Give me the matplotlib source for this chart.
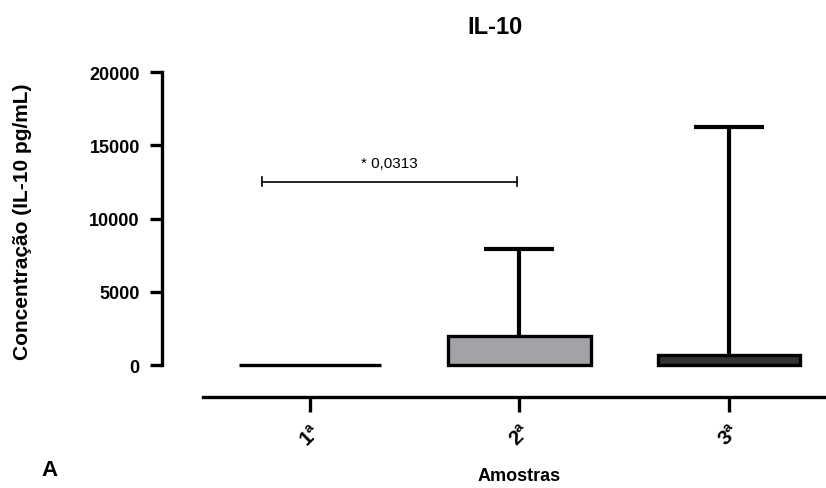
import matplotlib
matplotlib.use("Agg")
import matplotlib.pyplot as plt
import numpy as np

# dados (média e desvio, só a parte de cima)
amostras = ["1ª", "2ª", "3ª"]
medias = [0, 2000, 700]
erro_sup = [0, 5900, 15550]
cores = ["white", "#a3a2a7", "#333333"]
yticks = [0, 5000, 10000, 15000, 20000]
p_texto = "* 0,0313"
p_altura = 12500

plt.rcParams['font.family'] = ['Liberation Sans', 'DejaVu Sans']

fig = plt.figure(figsize=(8.26, 4.89), dpi=100)
ax = fig.add_axes([162/826, 1 - 398/489, 664/826, 325/489])

x = np.arange(len(amostras))
ax.bar(x, medias, width=0.68, color=cores, edgecolor="black", linewidth=2.4,
       clip_on=False, zorder=3)
# barras de erro (só para cima)
for xi, m, e in zip(x, medias, erro_sup):
    if e > 0:
        _, caps, _ = ax.errorbar(xi, m, yerr=[[0], [e]], fmt="none", ecolor="black",
                                 elinewidth=3, capsize=25, capthick=3, zorder=2)
        for c in caps:
            if c.get_ydata()[0] == m:
                c.set_visible(False)

# linha de significância
ax.plot([-0.23, 0.99], [p_altura, p_altura], color="black", lw=1.2)
ax.plot([-0.23, -0.23], [p_altura - 300, p_altura + 300], color="black", lw=1.2)
ax.plot([0.99, 0.99], [p_altura - 300, p_altura + 300], color="black", lw=1.2)
ax.text(0.38, p_altura + 800, p_texto, ha="center", va="bottom", fontsize=11)

ax.set_xlim(-0.706, 2.463)
ax.set_ylim(-2184, 20000)
for s in ["top", "right"]:
    ax.spines[s].set_visible(False)
ax.spines["left"].set_bounds(0, 20000)
ax.spines["bottom"].set_bounds(-0.51, 2.463)
ax.spines["left"].set_linewidth(2.4)
ax.spines["bottom"].set_linewidth(2.4)

ax.set_yticks(yticks)
ax.set_yticklabels([str(v) for v in yticks], fontsize=13, fontweight="bold")
ax.set_xticks(x)
ax.set_xticklabels(amostras, fontsize=15, fontweight="bold", rotation=45,
                   ha="right", va="top", rotation_mode="anchor")
ax.tick_params(axis="y", length=9, width=2.4, pad=7)
ax.tick_params(axis="x", length=11, width=2.4, pad=6)

fig.text(495/826, 1 - 27/489, "IL-10", ha="center", va="center",
         fontsize=17, fontweight="bold")
fig.text(23/826, 1 - 222/489, "Concentração (IL-10 pg/mL)", rotation=90,
         ha="center", va="center", fontsize=15, fontweight="bold")
fig.text(519/826, 1 - 477/489, "Amostras", ha="center", va="center",
         fontsize=13, fontweight="bold")
fig.text(49/826, 1 - 471/489, "A", ha="center", va="center",
         fontsize=16, fontweight="bold")

fig.savefig("out.png", dpi=100)
